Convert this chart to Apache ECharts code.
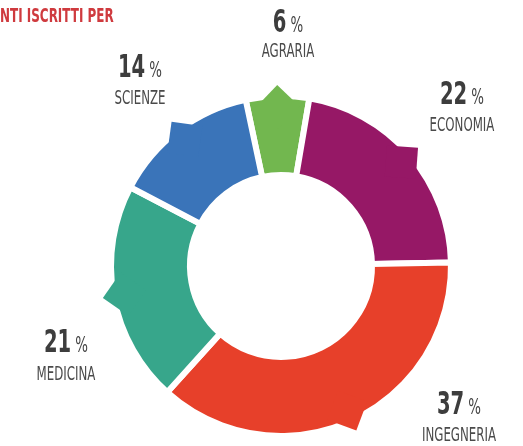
<!DOCTYPE html>
<html>
<head>
<meta charset="utf-8">
<script src="https://cdn.jsdelivr.net/npm/echarts@6/dist/echarts.min.js"></script>
<style>
  html, body { margin: 0; padding: 0; background: #fff; }
  #chart { width: 523px; height: 446px; }
</style>
</head>
<body>
<div id="chart"></div>
<script>
// Faculty shares of enrolled students (percent)
const categories = ['AGRARIA', 'ECONOMIA', 'INGEGNERIA', 'MEDICINA', 'SCIENZE'];
const shares = [6, 22, 37, 21, 14];
const sliceColors = ['#72b74f', '#961866', '#e7402a', '#37a68b', '#3a74b9'];

// Ring layout
const CENTER = [281, 266];
const INNER_R = 91;
const OUTER_R = 170;
const GAP = 6;
const START_ANGLE = 102;         // degrees, counter-clockwise from 3 o'clock
const TIP_R = 181;               // reach of the pointer tip on each slice
const TIP_HALF_DIAG = 22;

// Label placement: [centre x, bottom of the value line, bottom of the name line]
const labelSpots = [[288, 40, 62], [462, 112, 136], [459, 422, 446], [66, 360, 385], [140, 85, 109]];
const FONT = "'DejaVu Sans Condensed', 'DejaVu Sans', sans-serif";
const NARROW = 0.69;             // horizontal squeeze for the condensed lettering

const chart = echarts.init(document.getElementById('chart'), null, { renderer: 'canvas' });

const total = shares.reduce((a, b) => a + b, 0);

function midAngle(i) {
  let before = 0;
  for (let k = 0; k < i; k++) before += shares[k];
  const mid = before + shares[i] / 2;
  return (START_ANGLE - 360 * mid / total) * Math.PI / 180;
}

// Small square pointer standing out of the outer edge of each slice,
// its corner aimed along the slice's middle direction.
function renderPointer(params, api) {
  const i = params.dataIndex;
  const a = midAngle(i);
  const ux = Math.cos(a), uy = -Math.sin(a);
  const vx = Math.sin(a), vy = Math.cos(a);
  const tx = CENTER[0] + TIP_R * ux, ty = CENTER[1] + TIP_R * uy;
  const h = TIP_HALF_DIAG;
  const pts = [
    [tx, ty],
    [tx - h * ux + h * vx, ty - h * uy + h * vy],
    [tx - 2 * h * ux, ty - 2 * h * uy],
    [tx - h * ux - h * vx, ty - h * uy - h * vy]
  ];
  return {
    type: 'polygon',
    shape: { points: pts },
    style: { fill: sliceColors[i] }
  };
}

// Value and name captions for each slice
const captions = [];
categories.forEach((name, i) => {
  const s = labelSpots[i];
  captions.push({
    type: 'text',
    x: s[0], y: s[1],
    scaleX: NARROW,
    silent: true,
    style: {
      text: '{v|' + shares[i] + '}{p|%}',
      align: 'center',
      verticalAlign: 'bottom',
      rich: {
        v: { fontFamily: FONT, fontSize: 31.5, fontWeight: 'bold', fill: '#3d3d3d', lineHeight: 40, verticalAlign: 'bottom' },
        p: { fontFamily: FONT, fontSize: 21.5, fill: '#444444', lineHeight: 40, verticalAlign: 'bottom', padding: [0, 0, 3, 6] }
      }
    }
  });
  captions.push({
    type: 'text',
    x: s[0], y: s[2],
    scaleX: NARROW,
    silent: true,
    style: {
      text: name,
      align: 'center',
      verticalAlign: 'bottom',
      fontFamily: FONT,
      fontSize: 19,
      fill: '#4a4a4a'
    }
  });
});

const option = {
  animation: false,
  graphic: [
    {
      type: 'text',
      x: 0, y: 27,
      scaleX: 0.7,
      silent: true,
      style: {
        text: 'NTI ISCRITTI PER',
        align: 'left',
        verticalAlign: 'bottom',
        fontFamily: FONT,
        fontSize: 19,
        fontWeight: 'bold',
        fill: '#cf3a3e'
      }
    }
  ].concat(captions),
  series: [
    {
      type: 'pie',
      center: CENTER,
      radius: [INNER_R, OUTER_R],
      startAngle: START_ANGLE,
      clockwise: true,
      silent: true,
      itemStyle: { borderColor: '#fff', borderWidth: GAP },
      label: { show: false },
      labelLine: { show: false },
      data: categories.map((name, i) => ({
        name: name,
        value: shares[i],
        itemStyle: { color: sliceColors[i] }
      })),
      z: 2
    },
    {
      type: 'custom',
      coordinateSystem: 'none',
      silent: true,
      data: shares,
      renderItem: renderPointer,
      z: 3
    }
  ]
};

chart.setOption(option);
</script>
</body>
</html>
